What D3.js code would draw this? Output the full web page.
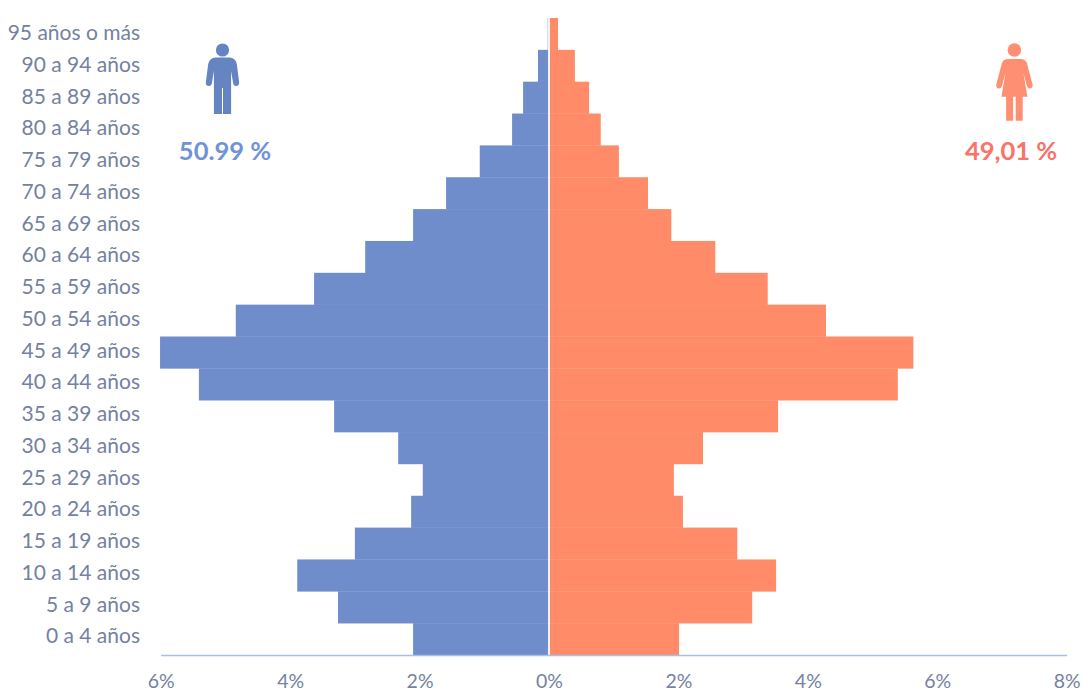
<!DOCTYPE html>
<html lang="es">
<head>
<meta charset="utf-8">
<title>Pirámide de población</title>
<script src="https://cdn.jsdelivr.net/npm/d3@7"></script>
<style>
html,body{margin:0;padding:0;background:#fff}
svg{display:block}
text{font-family:Lato,"Open Sans",sans-serif}
</style>
</head>
<body>
<svg id="chart" width="1084" height="692"></svg>
<script>
// Age groups, youngest first, and the share of the population in each one (%)
const ageGroups = ["0 a 4 años","5 a 9 años","10 a 14 años","15 a 19 años","20 a 24 años","25 a 29 años","30 a 34 años","35 a 39 años","40 a 44 años","45 a 49 años","50 a 54 años","55 a 59 años","60 a 64 años","65 a 69 años","70 a 74 años","75 a 79 años","80 a 84 años","85 a 89 años","90 a 94 años","95 años o más"];
const menShare = [2.10,3.26,3.89,3.00,2.13,1.95,2.33,3.32,5.41,6.01,4.84,3.63,2.84,2.10,1.59,1.07,0.57,0.40,0.17,0.02];
const womenShare = [2.01,3.14,3.51,2.91,2.07,1.93,2.38,3.54,5.39,5.63,4.28,3.38,2.57,1.89,1.53,1.08,0.80,0.62,0.40,0.14];
const axisTicks = [-6,-4,-2,0,2,4,6,8];
const menTotal = "50.99 %";
const womenTotal = "49,01 %";

const BLUE = "#6f8dcb", ORANGE = "#ff8b68", LABEL = "#75819f";

const svg = d3.select("#chart");
const x = d3.scaleLinear().domain([-6,8]).range([160.7,1066.7]);
const y = d3.scaleBand().domain(ageGroups.slice().reverse()).range([18,655]).padding(0);
// The age labels sit on a slightly tighter pitch than the bars
const yLabel = d3.scaleBand().domain(y.domain()).range([17,652]).padding(0);

// Mirrored bars: men to the left of zero, women to the right
svg.append("g").selectAll("rect").data(ageGroups).join("rect")
  .attr("x", (d,i) => x(-menShare[i]))
  .attr("y", d => y(d))
  .attr("width", (d,i) => x(0) - x(-menShare[i]))
  .attr("height", y.bandwidth() + 0.3)
  .attr("fill", BLUE);
svg.append("g").selectAll("rect").data(ageGroups).join("rect")
  .attr("x", x(0))
  .attr("y", d => y(d))
  .attr("width", (d,i) => x(womenShare[i]) - x(0))
  .attr("height", y.bandwidth() + 0.3)
  .attr("fill", ORANGE);

// White divider along the zero line
svg.append("line")
  .attr("x1", x(0)).attr("x2", x(0)).attr("y1", 18).attr("y2", 655)
  .attr("stroke", "#f4f6fb").attr("stroke-width", 2);

// Age labels to the left of the plot
svg.append("g").selectAll("text").data(ageGroups).join("text")
  .attr("x", 140)
  .attr("y", d => yLabel(d) + yLabel.bandwidth()/2)
  .attr("dy", "0.35em")
  .attr("text-anchor", "end")
  .attr("font-size", 21)
  .attr("fill", LABEL)
  .text(d => d);

// Bottom axis, showing magnitudes on both sides of zero
const axis = svg.append("g")
  .attr("transform", "translate(0,655)")
  .call(d3.axisBottom(x).tickValues(axisTicks).tickSize(0).tickPadding(19).tickFormat(d => Math.abs(d) + "%"));
axis.select(".domain").attr("stroke", "#a9c0e6").attr("stroke-width", 1.5);
axis.selectAll("text").attr("font-size", 19.5).attr("fill", LABEL)
  .style("font-family", 'Lato,"Open Sans",sans-serif');

// Man pictogram
const man = svg.append("g").attr("fill", "#6485c2").attr("transform", "translate(222.5,0)");
man.append("circle").attr("cx", 0).attr("cy", 50).attr("r", 6.6);
man.append("path").attr("d",
  "M-7,57.5 H7 Q13,58 14.3,64 L16.6,82 Q17,86 13.5,86 Q11,86 10.6,83 L8.6,71 V114 H0.5 V88 H-0.5 V114 H-8.6 V71 L-10.6,83 Q-11,86 -13.5,86 Q-17,86 -16.6,82 L-14.3,64 Q-13,58 -7,57.5 Z");

// Woman pictogram
const woman = svg.append("g").attr("fill", "#ff8f72").attr("transform", "translate(1014.4,0)");
woman.append("circle").attr("cx", 0).attr("cy", 50).attr("r", 6.8);
woman.append("path").attr("d",
  "M-6,59 H6 Q11,59 12.5,63 L18,84 Q19,88 16,88.5 Q13.5,89 12.5,86 L9,73 L13,96.7 H8.3 V120.8 H1.3 V96.7 H-1.3 V120.8 H-8.3 V96.7 H-13 L-9,73 L-12.5,86 Q-13.5,89 -16,88.5 Q-19,88 -18,84 L-12.5,63 Q-11,59 -6,59 Z");

// Population totals under each pictogram
svg.append("text").attr("x", 225).attr("y", 160).attr("text-anchor", "middle")
  .attr("font-size", 25.5).attr("font-weight", 700).attr("fill", "#7093d6").text(menTotal);
svg.append("text").attr("x", 1011).attr("y", 160).attr("text-anchor", "middle")
  .attr("font-size", 25.5).attr("font-weight", 700).attr("fill", "#f9736b").text(womenTotal);
</script>
</body>
</html>
